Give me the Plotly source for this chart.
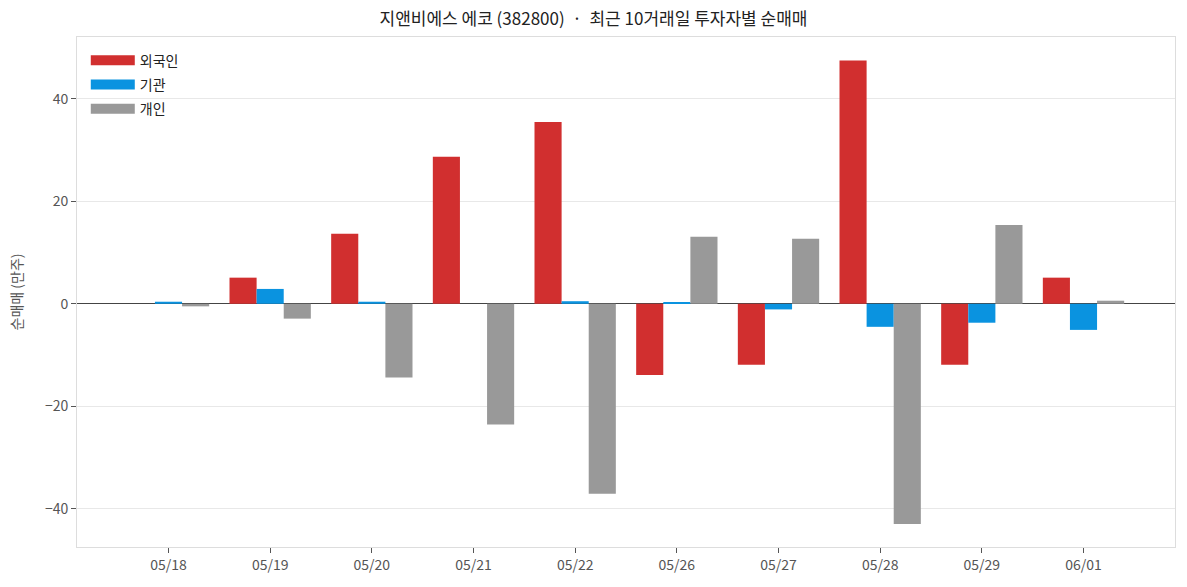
import plotly.graph_objects as go

dates = ["05/18", "05/19", "05/20", "05/21", "05/22", "05/26", "05/27", "05/28", "05/29", "06/01"]
foreign = [0.0, 5.1, 13.7, 28.7, 35.5, -13.9, -11.9, 47.5, -11.9, 5.1]
institution = [0.4, 2.9, 0.4, 0.0, 0.5, 0.2, -1.1, -4.5, -3.7, -5.1]
individual = [-0.5, -2.9, -14.4, -23.6, -37.1, 13.1, 12.7, -43.0, 15.4, 0.6]

names = ["외국인", "기관", "개인"]
colors = ["#D12F2F", "#0A93E0", "#999999"]
series = [foreign, institution, individual]

font_family = "Noto Sans CJK KR"

fig = go.Figure()
for name, color, vals in zip(names, colors, series):
    fig.add_trace(go.Bar(x=dates, y=vals, name=name, marker_color=color,
                         marker_line_width=0, showlegend=False, legendgroup=name))
# legend entries drawn as wide rectangles
for name, color in zip(names, colors):
    fig.add_trace(go.Scatter(x=[None], y=[None], mode="lines", name=name,
                             line=dict(color=color, width=12), legendgroup=name,
                             hoverinfo="skip"))

fig.update_layout(
    width=1187, height=587,
    margin=dict(l=77, r=12, t=37, b=40),
    paper_bgcolor="white", plot_bgcolor="white",
    font=dict(family=font_family, size=14, color="#555555"),
    title=dict(text="지앤비에스 에코 (382800)  ·  최근 10거래일 투자자별 순매매",
               x=0.5, xanchor="center", y=0.967, yanchor="middle",
               font=dict(size=17, color="#222222", family=font_family)),
    barmode="group", bargap=0.2, bargroupgap=0,
    legend=dict(x=0.008, y=0.985, xanchor="left", yanchor="top",
                bgcolor="rgba(255,255,255,0)", font=dict(size=14, color="#222222"),
                tracegroupgap=3, itemwidth=44),
    showlegend=True,
)
fig.update_xaxes(
    type="category", range=[-0.9, 9.9],
    showline=True, linecolor="#DDDDDD", linewidth=1, mirror=True,
    ticks="outside", ticklen=5, tickcolor="#555555",
    showgrid=False, tickfont=dict(size=14, color="#555555"),
)
fig.update_yaxes(
    range=[-47.5, 52.1], tickvals=[-40, -20, 0, 20, 40],
    showline=True, linecolor="#DDDDDD", linewidth=1, mirror=True,
    ticks="outside", ticklen=5, tickcolor="#555555",
    showgrid=True, gridcolor="#E8E8E8", gridwidth=1,
    zeroline=True, zerolinecolor="#444444", zerolinewidth=1.2,
    tickfont=dict(size=14, color="#555555"),
    title=dict(text="순매매 (만주)", font=dict(size=14, color="#555555"), standoff=18),
)

fig.write_html("out.html")
